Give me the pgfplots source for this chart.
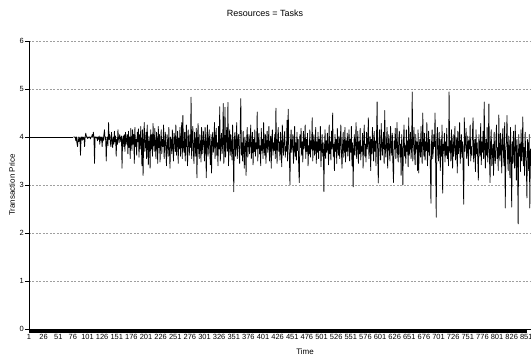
\documentclass[border=0pt]{standalone}
\usepackage{fontspec}
\setmainfont{Liberation Sans}
\usepackage{pgfplots}
\pgfplotsset{compat=1.18}
\usepackage{pgfplotstable}
\pgfplotstableread[row sep=\\]{
y\\
4.00\\ 4.00\\ 4.00\\ 4.00\\ 3.92\\ 4.00\\ 3.86\\ 3.80\\ 4.00\\ 3.90\\
3.95\\ 4.00\\ 3.62\\ 3.98\\ 4.00\\ 3.93\\ 4.00\\ 3.95\\ 4.00\\ 3.80\\
4.00\\ 4.08\\ 4.02\\ 4.00\\ 3.97\\ 4.00\\ 3.98\\ 4.00\\ 4.00\\ 3.96\\
4.00\\ 4.00\\ 4.05\\ 4.00\\ 4.10\\ 4.00\\ 3.45\\ 4.00\\ 4.00\\ 3.98\\
4.00\\ 3.92\\ 4.00\\ 3.95\\ 4.02\\ 3.85\\ 4.00\\ 3.93\\ 4.00\\ 3.80\\
4.00\\ 3.92\\ 4.05\\ 4.15\\ 3.95\\ 4.00\\ 3.50\\ 3.90\\ 4.00\\ 3.82\\
4.30\\ 3.95\\ 4.05\\ 3.88\\ 3.80\\ 4.10\\ 3.92\\ 3.78\\ 4.00\\ 3.85\\
4.12\\ 3.90\\ 4.02\\ 3.60\\ 3.95\\ 3.84\\ 4.15\\ 3.96\\ 3.88\\ 4.05\\
3.98\\ 3.90\\ 4.02\\ 3.35\\ 3.95\\ 4.02\\ 3.80\\ 4.05\\ 3.70\\ 4.10\\
3.85\\ 3.95\\ 4.05\\ 3.65\\ 4.12\\ 3.78\\ 4.00\\ 3.55\\ 4.18\\ 3.90\\
3.72\\ 4.15\\ 3.85\\ 4.05\\ 3.45\\ 4.20\\ 3.80\\ 3.95\\ 3.62\\ 4.10\\
3.90\\ 4.17\\ 3.58\\ 4.05\\ 3.75\\ 4.22\\ 3.85\\ 3.40\\ 4.15\\ 3.20\\
3.95\\ 4.30\\ 3.70\\ 3.85\\ 4.10\\ 3.55\\ 4.25\\ 3.80\\ 3.42\\ 4.02\\
3.88\\ 3.35\\ 4.15\\ 3.75\\ 4.05\\ 3.60\\ 4.28\\ 3.90\\ 3.70\\ 4.18\\
3.82\\ 3.55\\ 4.10\\ 3.95\\ 3.45\\ 4.22\\ 3.78\\ 4.05\\ 3.48\\ 3.92\\
4.15\\ 3.65\\ 3.95\\ 3.80\\ 4.25\\ 3.55\\ 3.88\\ 4.10\\ 3.70\\ 3.40\\
4.05\\ 3.85\\ 3.60\\ 4.20\\ 3.75\\ 3.35\\ 4.00\\ 3.90\\ 3.65\\ 4.15\\
3.80\\ 3.50\\ 4.08\\ 3.92\\ 3.70\\ 4.25\\ 3.62\\ 3.85\\ 4.12\\ 3.45\\
3.98\\ 3.75\\ 4.20\\ 3.60\\ 3.90\\ 4.30\\ 3.55\\ 4.45\\ 3.80\\ 3.68\\
4.10\\ 3.50\\ 3.92\\ 4.25\\ 3.70\\ 3.40\\ 4.15\\ 3.85\\ 3.62\\ 4.05\\
3.78\\ 4.83\\ 3.55\\ 3.95\\ 4.22\\ 3.68\\ 3.45\\ 4.10\\ 3.88\\ 3.60\\
4.18\\ 3.15\\ 3.92\\ 4.28\\ 3.70\\ 3.55\\ 4.05\\ 3.82\\ 3.48\\ 4.20\\
3.65\\ 3.90\\ 4.12\\ 3.75\\ 3.50\\ 4.20\\ 3.88\\ 3.15\\ 3.98\\ 4.25\\
3.60\\ 3.85\\ 4.15\\ 3.70\\ 3.42\\ 4.05\\ 3.25\\ 3.92\\ 4.10\\ 3.68\\
3.80\\ 4.30\\ 3.55\\ 3.95\\ 4.18\\ 3.62\\ 3.88\\ 3.40\\ 4.22\\ 3.75\\
4.63\\ 3.50\\ 3.90\\ 4.08\\ 3.65\\ 3.85\\ 4.70\\ 3.45\\ 3.72\\ 4.62\\
3.58\\ 3.95\\ 4.20\\ 3.70\\ 4.72\\ 3.40\\ 3.85\\ 4.15\\ 3.62\\ 4.05\\
3.78\\ 3.52\\ 4.25\\ 3.68\\ 2.86\\ 3.95\\ 4.10\\ 3.60\\ 3.82\\ 4.30\\
3.55\\ 3.90\\ 4.05\\ 3.72\\ 3.45\\ 4.18\\ 4.80\\ 3.62\\ 3.88\\ 3.50\\
4.12\\ 3.75\\ 3.35\\ 4.00\\ 3.85\\ 3.20\\ 3.95\\ 4.20\\ 3.58\\ 3.80\\
4.05\\ 3.65\\ 3.90\\ 4.25\\ 3.55\\ 3.78\\ 4.10\\ 3.42\\ 3.95\\ 3.70\\
4.15\\ 3.60\\ 3.88\\ 3.75\\ 4.52\\ 3.50\\ 3.92\\ 4.08\\ 3.65\\ 3.82\\
3.40\\ 4.18\\ 3.72\\ 3.95\\ 3.55\\ 4.30\\ 3.80\\ 3.62\\ 4.05\\ 3.45\\
3.90\\ 4.12\\ 3.68\\ 3.85\\ 4.22\\ 3.50\\ 3.78\\ 4.02\\ 3.35\\ 3.95\\
4.15\\ 3.62\\ 3.88\\ 3.72\\ 4.05\\ 3.55\\ 4.60\\ 3.80\\ 3.45\\ 3.98\\
4.20\\ 3.70\\ 3.90\\ 3.52\\ 4.10\\ 3.75\\ 3.38\\ 4.25\\ 3.85\\ 3.62\\
3.95\\ 4.12\\ 3.58\\ 3.80\\ 3.70\\ 4.35\\ 3.50\\ 4.58\\ 3.88\\ 3.65\\
3.00\\ 3.92\\ 4.15\\ 3.68\\ 3.82\\ 4.05\\ 3.45\\ 3.75\\ 4.22\\ 3.60\\
3.88\\ 3.52\\ 4.10\\ 3.72\\ 3.95\\ 3.35\\ 3.05\\ 4.05\\ 3.78\\ 4.18\\
3.62\\ 3.90\\ 3.48\\ 4.12\\ 3.75\\ 3.85\\ 4.25\\ 3.55\\ 3.95\\ 3.70\\
4.08\\ 3.40\\ 3.82\\ 3.65\\ 4.15\\ 3.58\\ 3.92\\ 3.75\\ 4.40\\ 3.50\\
3.85\\ 4.05\\ 3.62\\ 3.78\\ 4.20\\ 3.45\\ 3.90\\ 3.68\\ 4.10\\ 3.55\\
3.95\\ 3.72\\ 4.22\\ 3.38\\ 3.80\\ 4.05\\ 3.60\\ 3.88\\ 2.86\\ 3.75\\
4.15\\ 3.55\\ 3.92\\ 3.68\\ 4.08\\ 3.80\\ 3.42\\ 4.25\\ 3.65\\ 3.90\\
3.52\\ 4.12\\ 3.75\\ 4.50\\ 3.60\\ 3.85\\ 3.30\\ 4.05\\ 3.70\\ 3.95\\
3.45\\ 4.18\\ 3.80\\ 3.62\\ 4.02\\ 3.55\\ 3.90\\ 4.25\\ 3.68\\ 3.35\\
3.85\\ 4.10\\ 3.58\\ 3.75\\ 4.20\\ 3.48\\ 3.92\\ 3.70\\ 4.08\\ 3.60\\
3.82\\ 4.15\\ 3.50\\ 3.95\\ 3.68\\ 4.22\\ 3.40\\ 3.88\\ 2.96\\ 3.75\\
4.05\\ 3.62\\ 3.85\\ 4.30\\ 3.55\\ 3.78\\ 4.12\\ 3.45\\ 3.90\\ 3.65\\
4.18\\ 3.52\\ 3.80\\ 3.70\\ 4.08\\ 3.35\\ 3.92\\ 4.25\\ 3.60\\ 3.85\\
3.48\\ 4.10\\ 3.75\\ 3.88\\ 4.40\\ 3.55\\ 3.72\\ 4.02\\ 3.30\\ 3.95\\
3.65\\ 4.20\\ 3.82\\ 3.50\\ 4.12\\ 3.70\\ 3.92\\ 3.40\\ 4.05\\ 4.73\\
3.60\\ 3.04\\ 3.88\\ 4.15\\ 3.72\\ 3.52\\ 4.28\\ 3.80\\ 3.62\\ 3.95\\
4.10\\ 3.45\\ 4.55\\ 3.75\\ 3.58\\ 3.90\\ 4.20\\ 3.35\\ 3.82\\ 4.05\\
3.68\\ 3.50\\ 4.22\\ 3.85\\ 3.62\\ 4.08\\ 3.40\\ 3.05\\ 3.92\\ 3.75\\
4.18\\ 3.55\\ 3.80\\ 4.30\\ 3.65\\ 3.48\\ 3.95\\ 4.12\\ 3.58\\ 3.85\\
3.20\\ 4.05\\ 3.72\\ 3.00\\ 3.90\\ 4.25\\ 3.60\\ 3.82\\ 3.45\\ 4.15\\
3.70\\ 3.92\\ 3.38\\ 4.40\\ 3.62\\ 3.85\\ 4.10\\ 3.55\\ 3.78\\ 4.94\\
3.50\\ 3.88\\ 4.20\\ 3.65\\ 3.42\\ 4.05\\ 3.75\\ 3.90\\ 3.30\\ 4.15\\
3.25\\ 3.80\\ 3.95\\ 3.58\\ 4.22\\ 3.70\\ 3.45\\ 4.50\\ 3.85\\ 3.60\\
4.08\\ 3.52\\ 3.90\\ 3.72\\ 4.30\\ 3.40\\ 3.78\\ 4.12\\ 3.62\\ 3.95\\
3.35\\ 2.62\\ 3.88\\ 4.15\\ 3.55\\ 3.70\\ 4.05\\ 3.80\\ 4.50\\ 3.45\\
2.33\\ 3.92\\ 4.20\\ 3.65\\ 3.50\\ 4.10\\ 3.75\\ 3.30\\ 3.95\\ 3.60\\
4.25\\ 2.83\\ 3.85\\ 3.72\\ 4.08\\ 3.48\\ 3.90\\ 3.62\\ 4.18\\ 3.55\\
3.80\\ 3.40\\ 4.94\\ 3.68\\ 3.92\\ 3.50\\ 4.15\\ 3.75\\ 3.35\\ 4.05\\
3.60\\ 3.88\\ 4.22\\ 3.52\\ 3.70\\ 3.98\\ 3.25\\ 4.12\\ 3.65\\ 3.82\\
4.30\\ 3.45\\ 3.78\\ 4.05\\ 3.58\\ 3.90\\ 3.30\\ 2.60\\ 4.40\\ 3.70\\
3.85\\ 4.18\\ 3.55\\ 3.68\\ 4.02\\ 3.40\\ 3.92\\ 3.75\\ 4.25\\ 3.50\\
3.80\\ 3.62\\ 4.10\\ 4.40\\ 3.48\\ 3.72\\ 3.95\\ 3.28\\ 4.15\\ 3.65\\
3.88\\ 3.52\\ 3.10\\ 4.05\\ 3.75\\ 3.60\\ 4.28\\ 3.42\\ 3.90\\ 3.68\\
4.12\\ 3.55\\ 4.73\\ 3.80\\ 3.35\\ 3.95\\ 3.62\\ 4.20\\ 3.48\\ 3.75\\
4.69\\ 3.58\\ 3.05\\ 3.92\\ 4.15\\ 3.40\\ 3.70\\ 3.85\\ 3.20\\ 4.10\\
3.62\\ 3.45\\ 3.95\\ 4.25\\ 3.55\\ 3.78\\ 3.30\\ 4.46\\ 3.68\\ 3.50\\
4.08\\ 3.82\\ 3.25\\ 3.95\\ 4.18\\ 3.60\\ 3.40\\ 4.30\\ 2.52\\ 3.72\\
3.88\\ 4.45\\ 3.55\\ 3.30\\ 4.02\\ 3.70\\ 3.15\\ 4.20\\ 3.62\\ 2.54\\
3.90\\ 3.45\\ 4.12\\ 3.68\\ 3.35\\ 4.25\\ 3.80\\ 3.10\\ 3.95\\ 3.55\\
2.19\\ 4.05\\ 3.60\\ 3.85\\ 3.28\\ 4.15\\ 3.50\\ 3.72\\ 4.42\\ 3.40\\
3.78\\ 3.20\\ 4.10\\ 3.62\\ 3.45\\ 2.73\\ 3.95\\ 3.85\\ 3.30\\ 4.05\\
2.52\\ 3.75\\ 3.40\\
}\pricedata
\begin{document}
\begin{tikzpicture}
\begin{axis}[
  scale only axis, width=502pt, height=288pt,
  xmin=1, xmax=859, ymin=0, ymax=6,
  axis x line*=bottom, axis y line*=left,
  axis line style={black, line width=0.8pt},
  xtick={1,26,...,851},
  minor x tick num=24,
  ytick={0,1,...,6},
  ymajorgrids,
  grid style={gray!75, line width=0.5pt, dash pattern=on 2pt off 1.5pt},
  tick align=outside,
  major tick length=4pt, minor tick length=4pt,
  tick style={black, line width=0.4pt},
  minor tick style={black, line width=0.45pt},
  /pgf/number format/assume math mode=true,
  ticklabel style={font=\fontsize{7.5}{8}\selectfont},
  xticklabel style={inner sep=0.5pt, yshift=-1pt},
  yticklabel style={inner sep=1pt},
  xlabel={Time}, ylabel={Transaction Price},
  every axis x label/.style={at={(rel axis cs:0.55,0)}, yshift=-23pt, anchor=center, font=\fontsize{8}{9}\selectfont},
  every axis y label/.style={at={(rel axis cs:0,0.5)}, xshift=-17pt, rotate=90, anchor=center, font=\fontsize{8}{9}\selectfont},
  title={Resources = Tasks},
  every axis title/.style={at={(rel axis cs:0.47,1)}, yshift=27.5pt, anchor=center, font=\fontsize{9}{10}\selectfont},
  clip=true,
]
\addplot[black, line width=0.75pt] coordinates {(1,4) (77,4)};
\addplot[black, line width=0.75pt, line join=round] table[x expr=\coordindex+77, y=y] {\pricedata};
\end{axis}
\pgfresetboundingbox
\path ([shift={(-29pt,-29pt)}]current axis.south west) rectangle ([shift={(0pt,41pt)}]current axis.north east);
\end{tikzpicture}
\end{document}
